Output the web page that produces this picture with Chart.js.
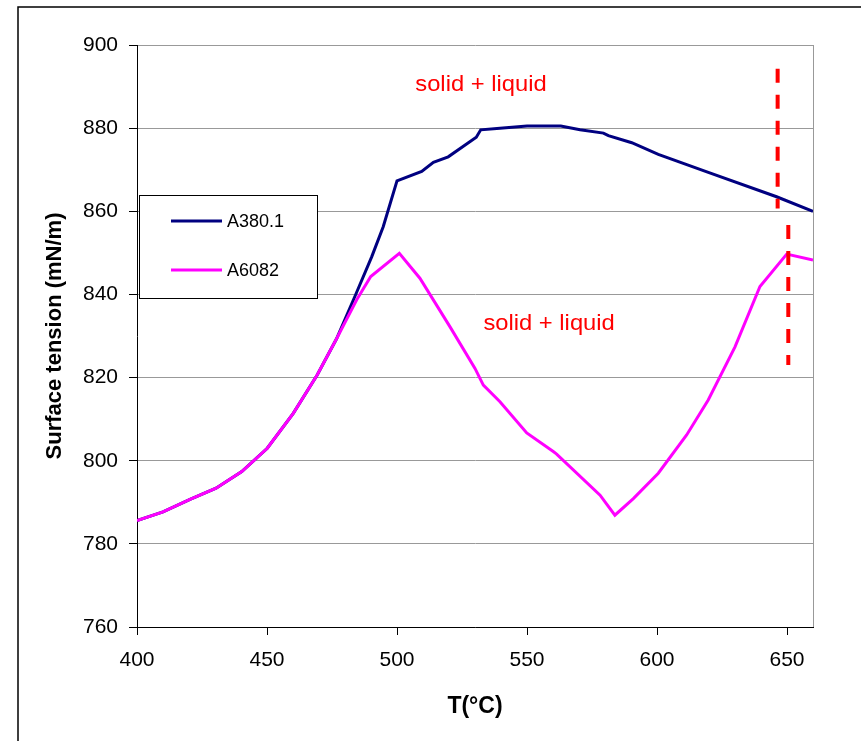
<!DOCTYPE html>
<html>
<head>
<meta charset="utf-8">
<title>Surface tension vs temperature</title>
<script src="https://cdn.jsdelivr.net/npm/chart.js@4.4.0/dist/chart.umd.min.js"></script>
<style>
    body { margin: 0; background: #fff; }
    #wrap { width: 861px; height: 741px; }
</style>
</head>
<body>
<div id="wrap"><canvas id="tensionChart" width="861" height="741"></canvas></div>
<script>
// Series data
const tempA380 = [400, 410, 420.4, 430.4, 440.3, 450.1, 460.1, 469.3, 476.8, 484, 490.3, 494.7, 500, 509.5, 514, 519.7, 530.5, 532.2, 539.6, 550, 563, 570.4, 579.4, 581.3, 590.3, 600.5, 620, 646, 660];
const tensionA380 = [785.6, 787.7, 790.7, 793.4, 797.4, 803, 811.4, 820.6, 829.4, 839.8, 849.1, 856.3, 867.3, 869.6, 871.8, 873.1, 877.8, 879.6, 880, 880.5, 880.5, 879.6, 878.8, 878.2, 876.5, 873.7, 869.3, 863.5, 860];

const tempA6082 = [400, 410, 420.4, 430.4, 440.3, 450.1, 460.1, 469.3, 476.8, 484.5, 489.9, 500.9, 508.8, 520.4, 530, 533.2, 539.6, 549.9, 560.1, 561.4, 578.1, 583.8, 590.9, 600.5, 611.4, 619.7, 630, 639.6, 649.9, 660];
const tensionA6082 = [785.6, 787.7, 790.7, 793.4, 797.4, 803, 811.4, 820.6, 829.4, 838.7, 844.3, 849.9, 843.9, 832.2, 822.2, 818.2, 814.2, 806.7, 802.2, 801.6, 791.7, 786.9, 790.9, 797, 806.2, 814.6, 827.4, 841.9, 849.7, 848.3];

// Red dashed markers (two short vertical pieces)
const dashUpperT = [646.4, 646.4];
const dashUpperV = [894.3, 860.7];
const dashLowerT = [650.5, 650.5];
const dashLowerV = [856.7, 823];

// Axis ticks
const xTicks = [400, 450, 500, 550, 600, 650];
const yTicks = [760, 780, 800, 820, 840, 860, 880, 900];

// Text annotations (data coordinates)
const noteLabels = ['solid + liquid', 'solid + liquid'];
const noteTemps = [532.3, 558.5];
const noteValues = [890.4, 833];

function toPoints(xs, ys) {
    return xs.map((x, i) => ({ x: x, y: ys[i] }));
}

// Outer frame, plot border and annotations
const decorPlugin = {
    id: 'decor',
    beforeDraw(chart) {
        const ctx = chart.ctx;
        ctx.save();
        ctx.fillStyle = '#fff';
        ctx.fillRect(0, 0, chart.width, chart.height);
        ctx.strokeStyle = '#000';
        ctx.lineWidth = 1.5;
        ctx.strokeRect(18, 7, chart.width, chart.height);
        ctx.restore();
    },
    beforeDatasetsDraw(chart) {
        const { ctx, chartArea } = chart;
        ctx.save();
        ctx.strokeStyle = '#999';
        ctx.lineWidth = 1;
        ctx.beginPath();
        ctx.moveTo(chartArea.right + 0.5, chartArea.top);
        ctx.lineTo(chartArea.right + 0.5, chartArea.bottom);
        ctx.stroke();
        ctx.restore();
    },
    afterDraw(chart) {
        const ctx = chart.ctx;
        const xs = chart.scales.x;
        const ys = chart.scales.y;

        // annotations
        ctx.save();
        ctx.fillStyle = '#ff0000';
        ctx.font = '22px "Liberation Sans", Arial, sans-serif';
        ctx.textAlign = 'center';
        ctx.textBaseline = 'middle';
        noteLabels.forEach((label, i) => {
            ctx.save();
            ctx.translate(xs.getPixelForValue(noteTemps[i]), ys.getPixelForValue(noteValues[i]));
            ctx.scale(1.08, 1);
            ctx.fillText(label, 0, 0);
            ctx.restore();
        });
        ctx.restore();

        // legend box
        const box = { left: 139, top: 195, width: 178, height: 103 };
        ctx.save();
        ctx.fillStyle = '#fff';
        ctx.fillRect(box.left, box.top, box.width, box.height);
        ctx.strokeStyle = '#000';
        ctx.lineWidth = 1;
        ctx.strokeRect(box.left + 0.5, box.top + 0.5, box.width, box.height);
        ctx.font = '18px "Liberation Sans", Arial, sans-serif';
        ctx.textBaseline = 'middle';
        ctx.textAlign = 'left';
        const rows = [221, 270];
        [0, 1].forEach((idx, r) => {
            const ds = chart.data.datasets[idx];
            ctx.strokeStyle = ds.borderColor;
            ctx.lineWidth = 3;
            ctx.beginPath();
            ctx.moveTo(171, rows[r]);
            ctx.lineTo(222, rows[r]);
            ctx.stroke();
            ctx.fillStyle = '#000';
            ctx.fillText(ds.label, 227, rows[r] + 1);
        });
        ctx.restore();
    }
};

const ctx = document.getElementById('tensionChart').getContext('2d');
new Chart(ctx, {
    type: 'line',
    data: {
        datasets: [
            {
                label: 'A380.1',
                data: toPoints(tempA380, tensionA380),
                borderColor: '#000080',
                borderWidth: 3,
                order: 2
            },
            {
                label: 'A6082',
                data: toPoints(tempA6082, tensionA6082),
                borderColor: '#ff00ff',
                borderWidth: 3,
                order: 1
            },
            {
                label: 'limit upper',
                data: toPoints(dashUpperT, dashUpperV),
                borderColor: '#ff0000',
                borderWidth: 4,
                borderDash: [14, 12],
                order: 0
            },
            {
                label: 'limit lower',
                data: toPoints(dashLowerT, dashLowerV),
                borderColor: '#ff0000',
                borderWidth: 4,
                borderDash: [14, 12],
                order: 0
            }
        ]
    },
    options: {
        responsive: false,
        animation: false,
        events: [],
        layout: { padding: { top: 45, right: 48, left: 0, bottom: 0 } },
        elements: {
            point: { radius: 0 },
            line: { tension: 0, fill: false }
        },
        plugins: {
            legend: { display: false },
            tooltip: { enabled: false }
        },
        scales: {
            x: {
                type: 'linear',
                min: 400,
                max: 660,
                afterBuildTicks: scale => { scale.ticks = xTicks.map(v => ({ value: v })); },
                afterFit: scale => { scale.height = 114; },
                grid: {
                    drawOnChartArea: false,
                    drawTicks: true,
                    tickLength: 8,
                    color: '#000'
                },
                border: { color: '#000', width: 1 },
                ticks: {
                    color: '#000',
                    padding: 13,
                    maxRotation: 0,
                    font: { family: '"Liberation Sans", Arial, sans-serif', size: 21 }
                },
                title: {
                    display: true,
                    text: 'T(°C)',
                    color: '#000',
                    padding: { top: 0, bottom: 21 },
                    font: { family: '"Liberation Sans", Arial, sans-serif', size: 23, weight: 'bold' }
                }
            },
            y: {
                type: 'linear',
                min: 760,
                max: 900,
                afterBuildTicks: scale => { scale.ticks = yTicks.map(v => ({ value: v })); },
                afterFit: scale => { scale.width = 137; },
                grid: {
                    color: '#999',
                    tickColor: '#000',
                    tickLength: 8
                },
                border: { color: '#000', width: 1 },
                ticks: {
                    color: '#000',
                    padding: 11,
                    font: { family: '"Liberation Sans", Arial, sans-serif', size: 21 }
                },
                title: {
                    display: true,
                    text: 'Surface tension (mN/m)',
                    color: '#000',
                    padding: { top: 42, bottom: 0 },
                    font: { family: '"Liberation Sans", Arial, sans-serif', size: 22, weight: 'bold' }
                }
            }
        }
    },
    plugins: [decorPlugin]
});
</script>
</body>
</html>
